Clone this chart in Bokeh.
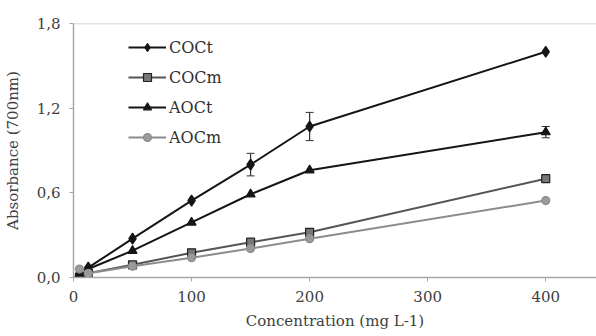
from bokeh.plotting import figure
from bokeh.models import (ColumnDataSource, Whisker, Legend, LegendItem, Span,
                          FixedTicker, CustomJSTickFormatter, Range1d)
from bokeh.embed import file_html
from bokeh.resources import INLINE

conc = [5, 12.5, 50, 100, 150, 200, 400]
coct = [0.03, 0.07, 0.275, 0.545, 0.80, 1.07, 1.60]
cocm = [0.0, 0.03, 0.09, 0.175, 0.25, 0.32, 0.70]
aoct = [0.02, 0.06, 0.19, 0.39, 0.59, 0.76, 1.03]
aocm = [0.06, 0.03, 0.08, 0.14, 0.205, 0.275, 0.545]

err_x = [150, 200]
err_coct = [0.80, 1.07]
err_coct_d = [0.08, 0.10]
err2_x = [400]
err2_aoct = [1.03]
err2_d = [0.04]

x_ticks = [0, 100, 200, 300, 400]
y_ticks = [0, 0.6, 1.2, 1.8]

FONT = "DejaVu Serif"

p = figure(width=596, height=336, output_backend="svg", toolbar_location=None,
           x_range=Range1d(0, 443), y_range=Range1d(0, 1.8),
           min_border_left=72, min_border_right=0, min_border_top=23,
           min_border_bottom=59)
p.outline_line_color = None
p.background_fill_color = "white"
p.border_fill_color = "white"
p.xgrid.visible = False
p.ygrid.visible = False

for ax in (p.xaxis[0], p.yaxis[0]):
    ax.axis_line_color = "#a8a8a8"
    ax.axis_line_width = 1.5
    ax.major_tick_line_color = "#a8a8a8"
    ax.minor_tick_line_color = None
    ax.major_tick_in = 0
    ax.major_tick_out = 4
    ax.major_label_text_font = FONT
    ax.major_label_text_font_size = "15px"
    ax.major_label_text_color = "#404040"
    ax.axis_label_text_font = FONT
    ax.axis_label_text_font_size = "15px"
    ax.axis_label_text_font_style = "normal"
    ax.axis_label_text_color = "#404040"

p.xaxis.ticker = FixedTicker(ticks=x_ticks)
p.yaxis.ticker = FixedTicker(ticks=y_ticks)
p.yaxis.formatter = CustomJSTickFormatter(code="return tick.toFixed(1).replace('.', ',');")
p.xaxis.axis_label = "Concentration (mg L-1)"
p.yaxis.axis_label = "Absorbance (700nm)"
p.xaxis.major_label_standoff = 9
p.yaxis.major_label_standoff = 9
p.xaxis.axis_label_standoff = 7
p.yaxis.axis_label_standoff = 12

p.add_layout(Span(location=1.8, dimension="width", line_color="#c8c8c8", line_width=1.5))

series = [
    ("COCt", coct, "#151515", "diamond", 11, "#151515", "#151515"),
    ("COCm", cocm, "#555555", "square", 8, "#222222", "#777777"),
    ("AOCt", aoct, "#151515", "triangle", 9, "#151515", "#151515"),
    ("AOCm", aocm, "#8c8c8c", "circle", 8, "#8c8c8c", "#9a9a9a"),
]

items = []
for name, ys, lc, mk, sz, mlc, mfc in series:
    src = ColumnDataSource(dict(x=conc, y=ys))
    r1 = p.line("x", "y", source=src, line_color=lc, line_width=2)
    r2 = p.scatter("x", "y", source=src, marker=mk, size=sz,
                   line_color=mlc, fill_color=mfc, line_width=1.2)
    items.append(LegendItem(label=name, renderers=[r1, r2]))

src_e = ColumnDataSource(dict(x=err_x, up=[a + b for a, b in zip(err_coct, err_coct_d)],
                              lo=[a - b for a, b in zip(err_coct, err_coct_d)]))
w1 = Whisker(base="x", upper="up", lower="lo", source=src_e, line_color="#333333",
             line_width=1.2)
w1.upper_head.size = 8
w1.lower_head.size = 8
w1.upper_head.line_color = "#333333"
w1.lower_head.line_color = "#333333"
p.add_layout(w1)

src_e2 = ColumnDataSource(dict(x=err2_x, up=[a + b for a, b in zip(err2_aoct, err2_d)],
                               lo=[a - b for a, b in zip(err2_aoct, err2_d)]))
w2 = Whisker(base="x", upper="up", lower="lo", source=src_e2, line_color="#333333",
             line_width=1.2)
w2.upper_head.size = 8
w2.lower_head.size = 8
w2.upper_head.line_color = "#333333"
w2.lower_head.line_color = "#333333"
p.add_layout(w2)

legend = Legend(items=items, location=(55, 130), orientation="vertical",
                glyph_width=38, glyph_height=20, label_height=20, spacing=10,
                padding=0, margin=0, label_standoff=3,
                label_text_font=FONT, label_text_font_size="16px",
                label_text_color="#303030", border_line_color=None,
                background_fill_alpha=0)
p.add_layout(legend, "center")

open("out.html", "w").write(file_html(p, INLINE))
